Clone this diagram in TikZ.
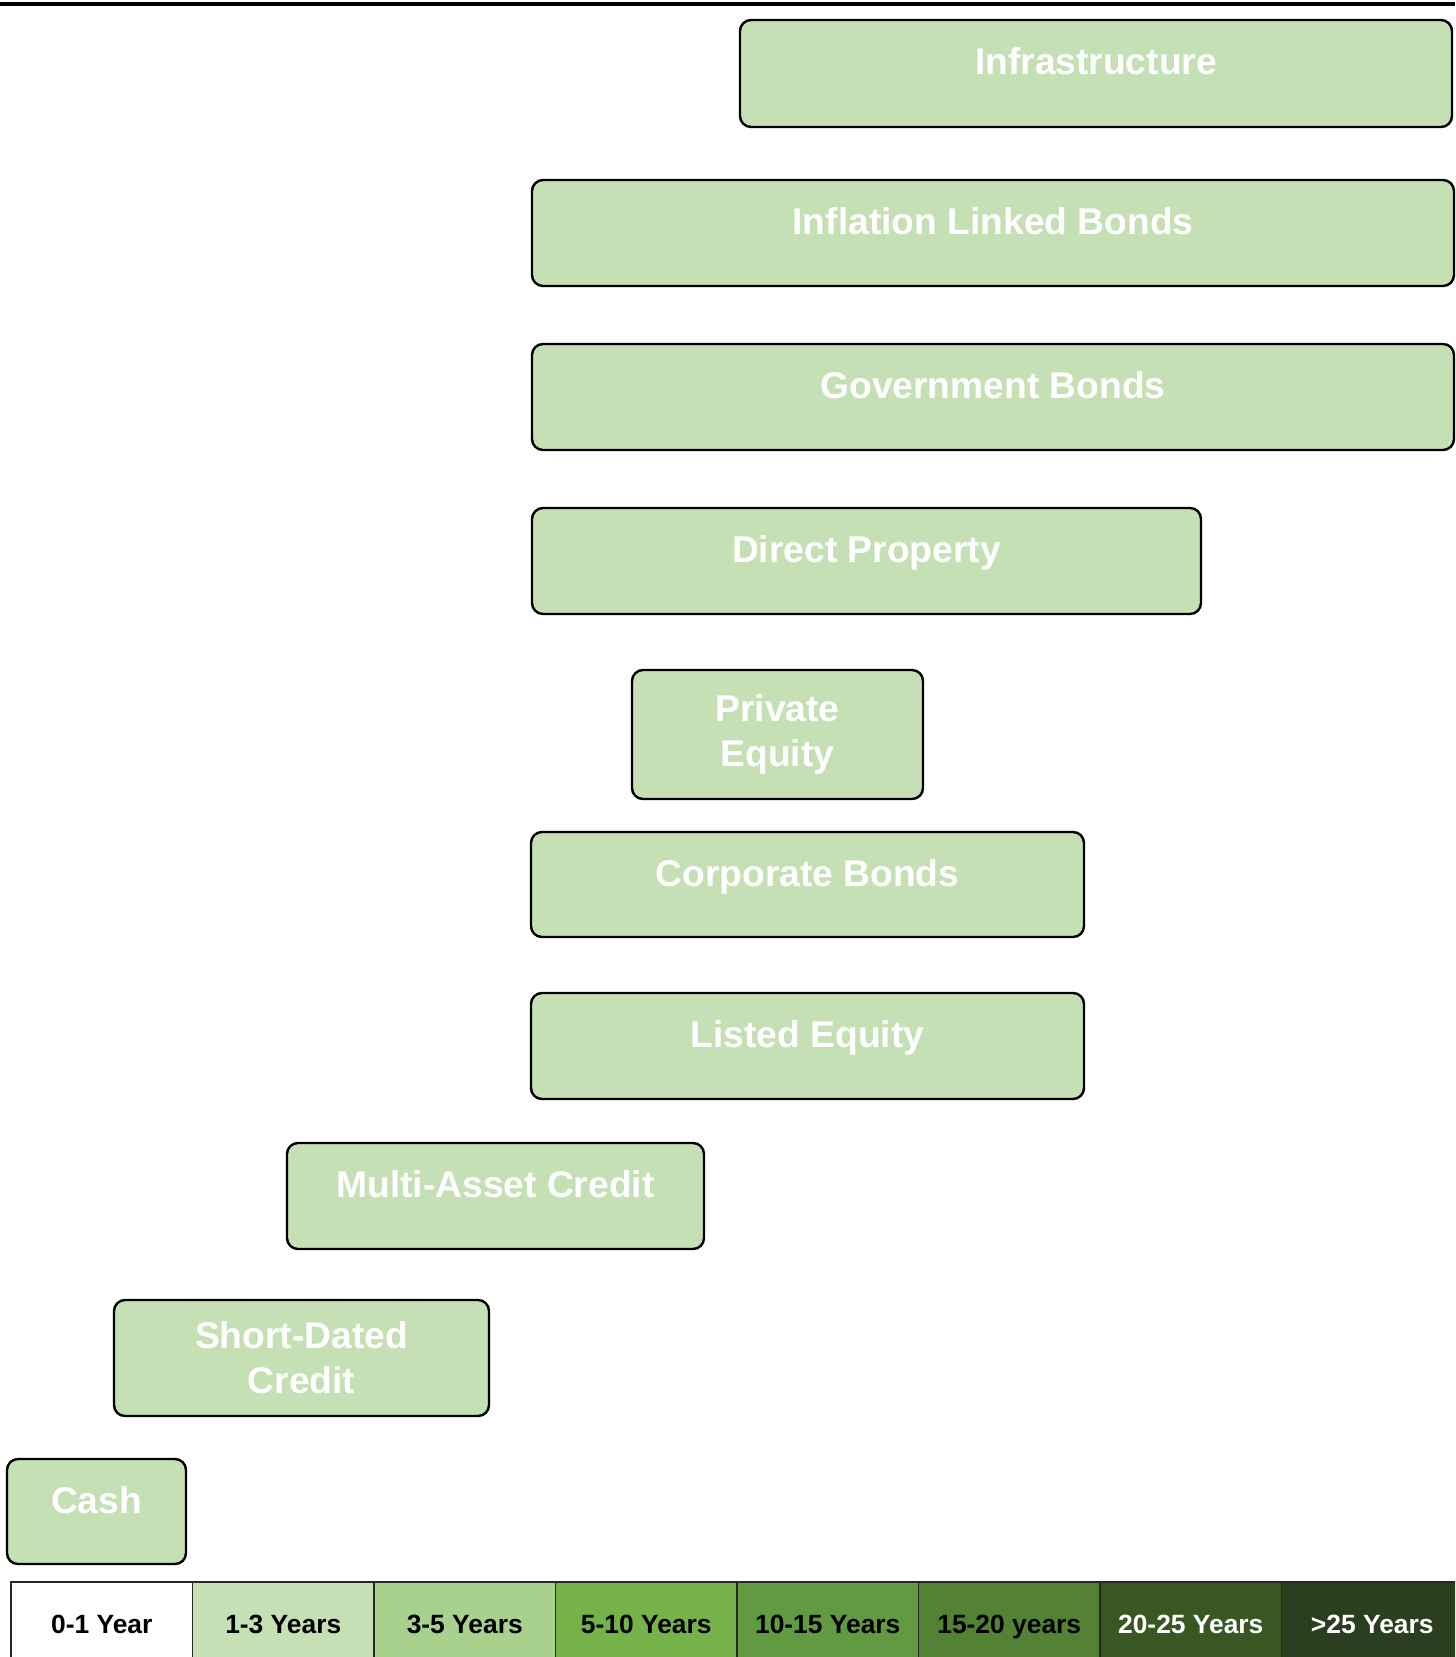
\documentclass[tikz,border=0pt]{standalone}
\usepackage{fontspec}
\setmainfont{Liberation Sans}
\usepackage{tikz}
\usetikzlibrary{
  positioning,
  fit
}
\definecolor{hzBox}{HTML}{C5E0B4}
\definecolor{hzA}{HTML}{FFFFFF}
\definecolor{hzB}{HTML}{C5E0B4}
\definecolor{hzC}{HTML}{A9D18E}
\definecolor{hzD}{HTML}{75B24A}
\definecolor{hzE}{HTML}{629A41}
\definecolor{hzF}{HTML}{548235}
\definecolor{hzG}{HTML}{385723}
\definecolor{hzH}{HTML}{2B3E1F}
\tikzset{
  assetbox/.style={
    draw=black, fill=hzBox, line width=1.2pt, rounded corners=5.5pt, inner sep=0pt
  },
  assettext/.style={
    text=white, font=\fontsize{18.6}{22.5}\selectfont\bfseries, align=center, inner sep=0pt
  },
  oneline/.style={assettext, text height=13.5pt, text depth=4pt},
  hzcell/.style={
    draw=black!85, line width=0.6pt, minimum width=90.75pt, minimum height=45pt,
    inner sep=0pt, outer sep=0pt, font=\fontsize{13.2}{16}\selectfont\bfseries,
    text height=9.6pt, text depth=2.8pt
  },
  topline/.style={line width=1.8pt, black}
}

\begin{document}
\begin{tikzpicture}[x=0.5pt, y=-0.5pt]
  \useasboundingbox (0,0) rectangle (1455,1657);
  \clip (0,0) rectangle (1455,1657);
  % rule along the top
  \coordinate (tl) at (0,4);
  \coordinate (tr) at (1455,4);
  \draw[topline] (tl) -- (tr);
  % asset classes
  \node[assetbox, fit={(740,20) (1452,127)}] (infra) {};
  \node[assetbox, fit={(532,180) (1454,286)}] (ilb) {};
  \node[assetbox, fit={(532,344) (1454,450)}] (govt) {};
  \node[assetbox, fit={(532,508) (1201,614)}] (prop) {};
  \node[assetbox, fit={(632,670) (923,799)}] (pe) {};
  \node[assetbox, fit={(531,832) (1084,937)}] (corp) {};
  \node[assetbox, fit={(531,993) (1084,1099)}] (listed) {};
  \node[assetbox, fit={(287,1143) (704,1249)}] (mac) {};
  \node[assetbox, fit={(114,1300) (489,1416)}] (sdc) {};
  \node[assetbox, fit={(7,1459) (186,1564)}] (cash) {};
  \node[oneline] (infraT) at ([yshift=4pt]infra.center) {Infrastructure};
  \node[oneline] (ilbT) at ([yshift=4pt]ilb.center) {Inflation Linked Bonds};
  \node[oneline] (govtT) at ([yshift=4pt]govt.center) {Government Bonds};
  \node[oneline] (propT) at ([yshift=4pt]prop.center) {Direct Property};
  \node[assettext] (peT) at (pe.center) {Private\\Equity};
  \node[oneline] (corpT) at ([yshift=4pt]corp.center) {Corporate Bonds};
  \node[oneline] (listedT) at ([yshift=4pt]listed.center) {Listed Equity};
  \node[oneline] (macT) at ([yshift=4pt]mac.center) {Multi-Asset Credit};
  \node[assettext] (sdcT) at (sdc.center) {Short-Dated\\Credit};
  \node[oneline] (cashT) at ([yshift=4pt]cash.center) {Cash};
  % time horizon scale
  \node[hzcell, fill=hzA, anchor=north west] (h01) at (11,1582) {0-1 Year};
  \node[hzcell, fill=hzB, right=0pt of h01] (h13) {1-3 Years};
  \node[hzcell, fill=hzC, right=0pt of h13] (h35) {3-5 Years};
  \node[hzcell, fill=hzD, right=0pt of h35] (h510) {5-10 Years};
  \node[hzcell, fill=hzE, right=0pt of h510] (h1015) {10-15 Years};
  \node[hzcell, fill=hzF, right=0pt of h1015] (h1520) {15-20 years};
  \node[hzcell, fill=hzG, right=0pt of h1520, text=white] (h2025) {20-25 Years};
  \node[hzcell, fill=hzH, right=0pt of h2025, text=white] (h25) {>25 Years};
\end{tikzpicture}
\end{document}
